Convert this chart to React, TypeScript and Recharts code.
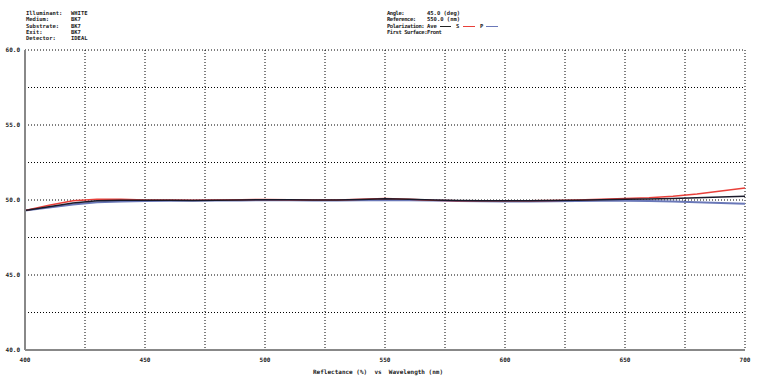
import { LineChart, Line, XAxis, YAxis, CartesianGrid } from "recharts";

// wavelength (nm)
const wavelengths = [
  400, 410, 420, 430, 440, 450, 460, 470, 480, 490, 500, 510, 520, 530, 540, 550,
  560, 570, 580, 590, 600, 610, 620, 630, 640, 650, 660, 670, 680, 690, 700,
];

// reflectance (%)
const aveValues = [
  49.3, 49.55, 49.8, 49.95, 49.98, 49.98, 49.98, 49.97, 49.98, 50.0, 50.02, 50.02, 50.0, 50.0, 50.03, 50.08,
  50.05, 50.0, 49.97, 49.95, 49.95, 49.95, 49.96, 49.98, 50.02, 50.05, 50.06, 50.1, 50.15, 50.2, 50.25,
];
const sValues = [
  49.3, 49.65, 49.95, 50.05, 50.05, 50.0, 50.0, 49.98, 50.0, 50.02, 50.03, 50.02, 50.0, 50.0, 50.05, 50.1,
  50.05, 49.98, 49.95, 49.95, 49.95, 49.95, 49.97, 50.0, 50.05, 50.1, 50.15, 50.25, 50.4, 50.6, 50.8,
];
const pValues = [
  49.3, 49.5, 49.7, 49.85, 49.9, 49.93, 49.95, 49.95, 49.96, 49.97, 49.98, 49.98, 49.97, 49.97, 49.98, 50.0,
  49.98, 49.96, 49.94, 49.92, 49.9, 49.9, 49.92, 49.93, 49.95, 49.95, 49.93, 49.9, 49.85, 49.8, 49.75,
];

const xTicks = [400, 425, 450, 475, 500, 525, 550, 575, 600, 625, 650, 675, 700];
const yTicks = [40, 42.5, 45, 47.5, 50, 52.5, 55, 57.5, 60];

const leftHeader = [
  ["Illuminant:", "WHITE"],
  ["Medium:", "BK7"],
  ["Substrate:", "BK7"],
  ["Exit:", "BK7"],
  ["Detector:", "IDEAL"],
];
const rightHeader = [
  ["Angle:", "45.0 (deg)"],
  ["Reference:", "550.0 (nm)"],
];

const data = wavelengths.map((w, i) => ({
  w,
  ave: aveValues[i],
  s: sValues[i],
  p: pValues[i],
}));

const font = "'DejaVu Sans Mono', monospace";
const txt: React.CSSProperties = {
  position: "absolute",
  fontFamily: font,
  fontSize: 5.5,
  fontWeight: "bold",
  color: "#222",
  whiteSpace: "pre",
  lineHeight: "6px",
};
const tight: React.CSSProperties = { ...txt, letterSpacing: -0.45 };
const rowTop = (i: number) => 10 + i * 6.3;

export default function App() {
  return (
    <div style={{ position: "absolute", left: 0, top: 0, width: 758, height: 390, background: "#fff" }}>
      {leftHeader.map(([k, v], i) => (
        <div key={k}>
          <div style={{ ...txt, left: 26, top: rowTop(i) }}>{k}</div>
          <div style={{ ...txt, left: 71, top: rowTop(i) }}>{v}</div>
        </div>
      ))}
      {rightHeader.map(([k, v], i) => (
        <div key={k}>
          <div style={{ ...tight, left: 387, top: rowTop(i) }}>{k}</div>
          <div style={{ ...txt, left: 427, top: rowTop(i) }}>{v}</div>
        </div>
      ))}
      <div style={{ ...tight, left: 387, top: rowTop(2) }}>Polarization:</div>
      <div style={{ ...txt, left: 427, top: rowTop(2) }}>Ave</div>
      <div style={{ position: "absolute", left: 440, top: rowTop(2) + 3, width: 11, height: 1.5, background: "#222" }} />
      <div style={{ ...txt, left: 456, top: rowTop(2) }}>S</div>
      <div style={{ position: "absolute", left: 463, top: rowTop(2) + 3, width: 12, height: 1.5, background: "#e8403a" }} />
      <div style={{ ...txt, left: 480, top: rowTop(2) }}>P</div>
      <div style={{ position: "absolute", left: 486, top: rowTop(2) + 3, width: 12, height: 1.5, background: "#6a78b8" }} />
      <div style={{ ...tight, left: 387, top: rowTop(3) }}>First Surface:Front</div>
      <div style={{ ...txt, fontSize: 6, left: 313, top: 369 }}>Reflectance (%)  vs  Wavelength (nm)</div>

      <LineChart
        width={758}
        height={390}
        data={data}
        margin={{ top: 50, right: 13, left: 0, bottom: 0 }}
      >
        <CartesianGrid stroke="#000" strokeDasharray="1 2" strokeWidth={1} />
        <XAxis
          dataKey="w"
          type="number"
          domain={[400, 700]}
          ticks={xTicks}
          interval={0}
          height={40}
          tickLine={false}
          axisLine={{ stroke: "#888", strokeWidth: 2 }}
          tickFormatter={(v: number) => (v % 50 === 0 ? String(v) : "")}
          tick={{ fontSize: 6, fontFamily: font, fontWeight: "bold", fill: "#222" }}
          tickMargin={2}
        />
        <YAxis
          type="number"
          domain={[40, 60]}
          ticks={yTicks}
          interval={0}
          width={25}
          tickLine={false}
          tickSize={2}
          axisLine={{ stroke: "#888", strokeWidth: 2 }}
          tickFormatter={(v: number) => (v % 5 === 0 ? v.toFixed(1) : "")}
          tick={{ fontSize: 6, fontFamily: font, fontWeight: "bold", fill: "#222" }}
          tickMargin={3}
        />
        <Line dataKey="p" stroke="#6a78b8" strokeWidth={2} dot={false} isAnimationActive={false} />
        <Line dataKey="s" stroke="#e8403a" strokeWidth={1.5} dot={false} isAnimationActive={false} />
        <Line dataKey="ave" stroke="#1a1a2a" strokeWidth={1.5} dot={false} isAnimationActive={false} />
      </LineChart>
    </div>
  );
}
